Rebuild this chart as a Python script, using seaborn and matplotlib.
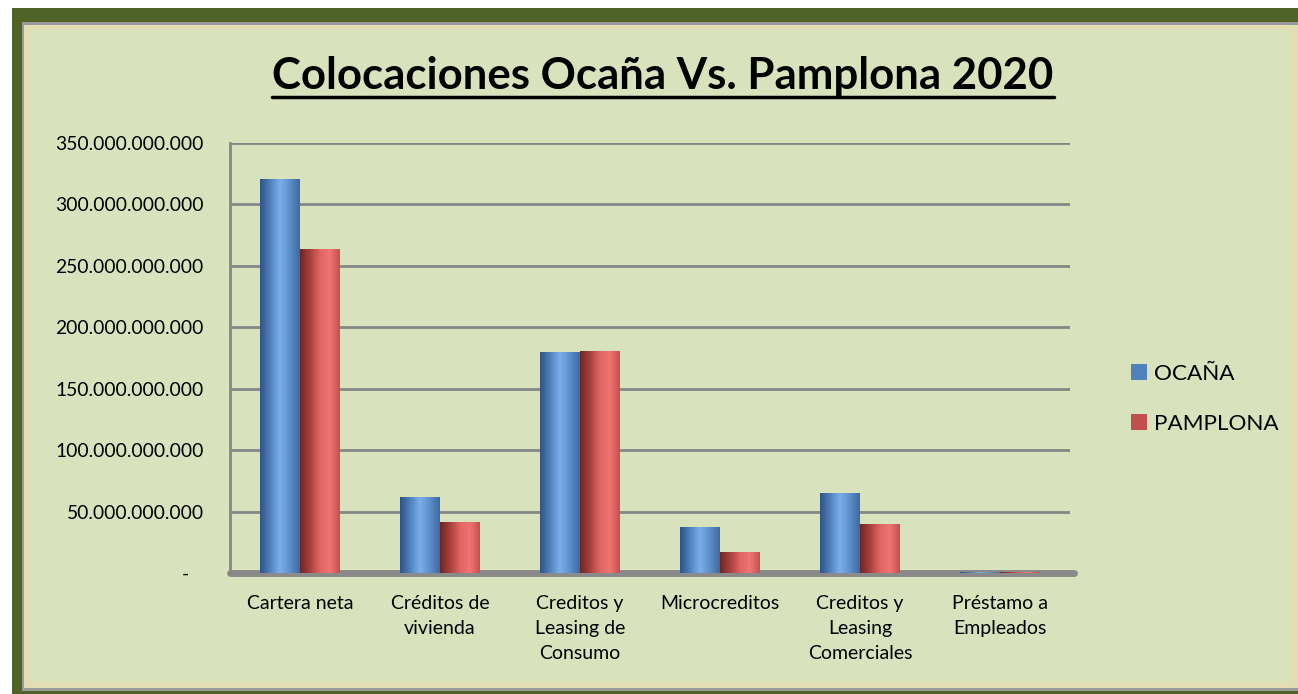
import numpy as np
import pandas as pd
import matplotlib
matplotlib.use("Agg")
import matplotlib.pyplot as plt
from matplotlib.patches import Rectangle, Patch
from matplotlib.colors import LinearSegmentedColormap
import seaborn as sns

# data
categories = ["Cartera neta", "Créditos de\nvivienda", "Creditos y\nLeasing de\nConsumo",
              "Microcreditos", "Creditos y\nLeasing\nComerciales", "Préstamo a\nEmpleados"]
ocana = [320.5e9, 61.6e9, 180.2e9, 37.7e9, 65.4e9, 1.2e9]
pamplona = [263.6e9, 41.8e9, 180.5e9, 17.3e9, 39.9e9, 0.9e9]
series = ["OCAÑA", "PAMPLONA"]
yticks = [0, 50e9, 100e9, 150e9, 200e9, 250e9, 300e9, 350e9]
ytick_labels = ["-   ", "50.000.000.000", "100.000.000.000", "150.000.000.000",
                "200.000.000.000", "250.000.000.000", "300.000.000.000", "350.000.000.000"]

df = pd.DataFrame({
    "categoria": categories * 2,
    "valor": ocana + pamplona,
    "serie": [series[0]] * len(categories) + [series[1]] * len(categories),
})

sns.set_theme(style="white")
plt.rcParams["font.family"] = ["Lato", "DejaVu Sans"]

W, H = 1298, 694
fig = plt.figure(figsize=(W / 100, H / 100), dpi=100)
fig.patch.set_facecolor("white")

def px(x0, y0, x1, y1):
    # pixel box -> figure coords
    return (x0 / W, 1 - y1 / H), (x1 - x0) / W, (y1 - y0) / H

# outer dark green frame and the light panel
xy, w, h = px(12, 8, 1320, 720)
fig.patches.append(Rectangle(xy, w, h, transform=fig.transFigure, facecolor="#4F6228", edgecolor="none", zorder=0))
xy, w, h = px(22, 22, 1320, 691)
fig.patches.append(Rectangle(xy, w, h, transform=fig.transFigure, facecolor="#9A9A9A", edgecolor="none", zorder=0))
xy, w, h = px(24, 25, 1320, 688)
fig.patches.append(Rectangle(xy, w, h, transform=fig.transFigure, facecolor="#E3DDB4", edgecolor="none", zorder=0))
xy, w, h = px(30, 30, 1290, 682)
fig.patches.append(Rectangle(xy, w, h, transform=fig.transFigure, facecolor="#D8E3BD", edgecolor="none", zorder=0))

ax = fig.add_axes([230 / W, 1 - 573 / H, 840 / W, 430 / H])
ax.set_facecolor("none")
ax.set_zorder(2)

palette = {"OCAÑA": "#4F81BD", "PAMPLONA": "#C0504D"}
sns.barplot(data=df, x="categoria", y="valor", hue="serie", palette=palette,
            width=0.57, gap=0, saturation=1, ax=ax, legend=False, zorder=3)

# cylinder-like shading on the bars
cmaps = [
    LinearSegmentedColormap.from_list("b", ["#2F5386", "#4F81BD", "#7BAEEA", "#5D8FCB", "#3F6AA0"]),
    LinearSegmentedColormap.from_list("r", ["#6E2725", "#A8403E", "#E06462", "#F07472", "#C4524F"]),
]
grad = np.linspace(0, 1, 64).reshape(1, -1)
for cont, cm in zip(ax.containers, cmaps):
    for bar in cont:
        x, bw, bh = bar.get_x(), bar.get_width(), bar.get_height()
        if bh <= 0:
            continue
        bar.set_edgecolor("none")
        im = ax.imshow(grad, extent=[x, x + bw, 0, bh], aspect="auto", cmap=cm, zorder=4)
        im.set_clip_path(bar)

ax.set_xlim(-0.5, 5.5)
ax.set_ylim(0, 350e9)
ax.set_yticks(yticks)
ax.set_yticklabels(ytick_labels)
ax.yaxis.grid(True, color="#868686", linewidth=2, zorder=1)
ax.set_axisbelow(True)
ax.tick_params(axis="y", length=0, pad=19, labelsize=13.9, labelcolor="black")
ax.tick_params(axis="x", length=0, pad=16, labelsize=14, labelcolor="black")
for lbl in ax.get_xticklabels():
    lbl.set_linespacing(1.55)
    lbl.set_verticalalignment("top")
ax.set_xlabel("")
ax.set_ylabel("")
for s in ["top", "right", "bottom"]:
    ax.spines[s].set_visible(False)
ax.spines["left"].set_color("#868686")
ax.spines["left"].set_linewidth(2)
ax.axhline(0, xmin=0, xmax=1.005, color="#8A8A8A", linewidth=5, zorder=2, clip_on=False)

# legend
handles = [Patch(facecolor=palette[s], edgecolor="none", label=s) for s in series]
leg = fig.legend(handles=handles, loc="center left", bbox_to_anchor=(1120 / W, 1 - 399 / H),
                 frameon=False, fontsize=16.2, handlelength=0.7, handleheight=0.7,
                 handletextpad=0.3, labelspacing=1.35, borderpad=0)
for t in leg.get_texts():
    t.set_color("black")

# title with underline
title = fig.text(663 / W, 1 - 76 / H, "Colocaciones Ocaña Vs. Pamplona 2020",
                 ha="center", va="center", fontsize=31.5, fontweight="bold", color="black")
fig.canvas.draw()
bb = title.get_window_extent().transformed(fig.transFigure.inverted())
fig.add_artist(plt.Line2D([bb.x0, bb.x1], [1 - 97 / H] * 2, transform=fig.transFigure,
                          color="black", linewidth=2.5))

fig.savefig("out.png", dpi=100)
